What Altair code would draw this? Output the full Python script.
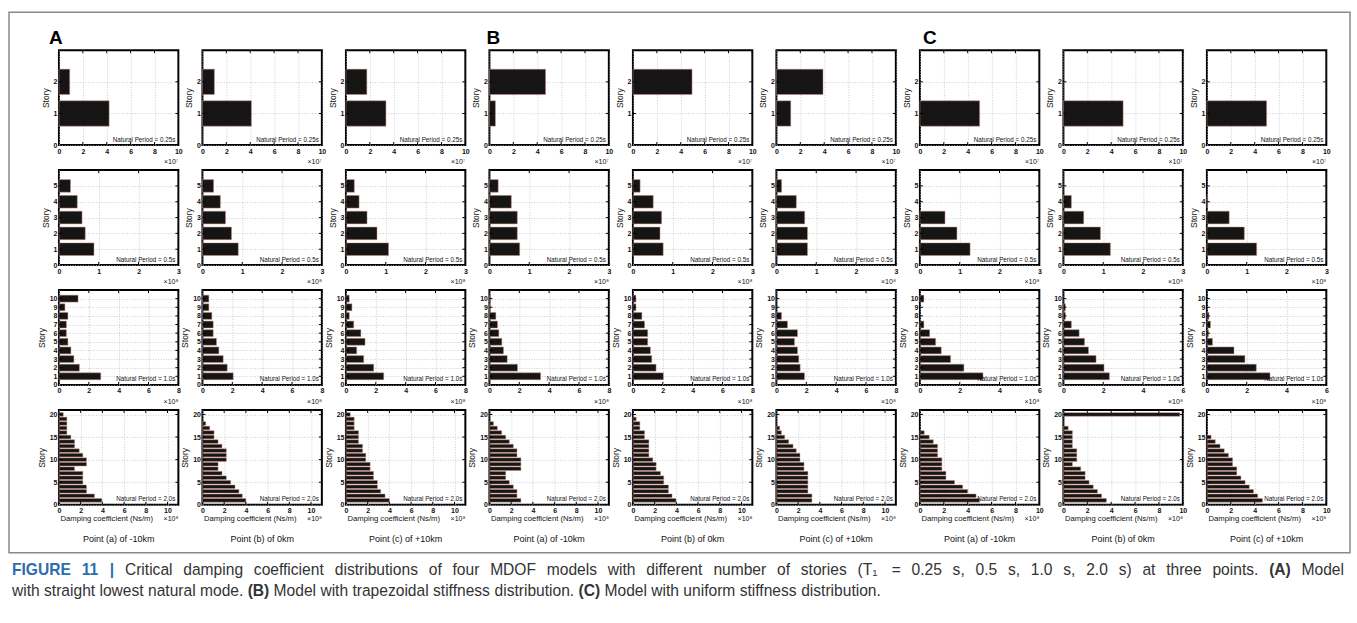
import altair as alt
import pandas as pd

# ------------------------------------------------------------------
# Critical damping coefficients.
# Row 1 (T1 = 0.25 s) in units of 1e7 Ns/m, rows 2-4 in 1e8 Ns/m.
# Each list: story 1 .. story N.  Panel order: A(a,b,c), B(a,b,c), C(a,b,c)
# ------------------------------------------------------------------
T025_A = [[4.2, 0.9], [4.1, 1.0], [3.35, 1.75]]
T025_B = [[0.5, 4.7], [0.0, 4.95], [1.2, 3.9]]
T025_C = [[5.0, 0.0], [5.0, 0.0], [5.0, 0.0]]

T05_A = [[0.88, 0.66, 0.58, 0.46, 0.29],
         [0.90, 0.73, 0.58, 0.45, 0.28],
         [1.07, 0.78, 0.53, 0.33, 0.21]]
T05_B = [[0.76, 0.70, 0.70, 0.55, 0.22],
         [0.76, 0.68, 0.72, 0.51, 0.18],
         [0.78, 0.78, 0.71, 0.50, 0.13]]
T05_C = [[1.26, 0.93, 0.63, 0.0, 0.0],
         [1.18, 0.93, 0.51, 0.20, 0.0],
         [1.25, 0.94, 0.56, 0.02, 0.0]]

T10_A = [[2.8, 1.37, 1.0, 0.8, 0.6, 0.5, 0.5, 0.6, 0.4, 1.28],
         [2.06, 1.66, 1.39, 1.1, 0.94, 0.72, 0.72, 0.63, 0.43, 0.43],
         [2.53, 1.86, 1.19, 0.72, 1.28, 1.0, 0.52, 0.22, 0.4, 0.22]]
T10_B = [[3.43, 1.88, 1.19, 0.94, 0.83, 0.63, 0.54, 0.43, 0.05, 0.07],
         [2.04, 1.55, 1.26, 1.17, 0.99, 0.99, 0.78, 0.6, 0.2, 0.2],
         [1.88, 1.59, 1.5, 1.41, 1.21, 1.41, 0.74, 0.34, 0.0, 0.0]]
T10_C = [[3.17, 2.21, 1.54, 1.07, 0.79, 0.49, 0.2, 0.0, 0.0, 0.2],
         [2.31, 2.04, 1.64, 1.26, 1.06, 0.79, 0.4, 0.1, 0.1, 0.0],
         [3.17, 2.48, 1.91, 1.36, 0.28, 0.08, 0.18, 0.1, 0.0, 0.0]]

T20_A = [[3.95, 3.27, 2.54, 2.54, 2.2, 2.2, 2.2, 1.44, 2.54, 2.54,
          2.2, 1.87, 1.44, 1.44, 1.1, 0.73, 0.73, 0.73, 0.73, 0.4],
         [4.0, 3.67, 3.36, 3.0, 2.6, 2.2, 1.8, 1.44, 1.44, 2.2,
          2.2, 2.2, 1.8, 1.44, 1.07, 1.07, 0.67, 0.3, 0.0, 0.0],
         [4.0, 3.6, 3.2, 2.9, 2.9, 2.54, 2.54, 2.23, 2.23, 1.83,
          1.83, 1.53, 1.53, 1.16, 1.16, 1.16, 0.76, 0.76, 0.76, 0.4]]
T20_B = [[2.9, 2.54, 2.54, 2.2, 1.83, 1.5, 1.5, 2.9, 2.9, 2.9,
          2.54, 2.54, 2.2, 1.83, 1.5, 1.13, 0.73, 0.37, 0.0, 0.0],
         [3.97, 3.6, 3.27, 3.27, 2.84, 2.84, 2.54, 2.14, 2.14, 1.83,
          1.47, 1.47, 1.47, 1.47, 1.07, 1.07, 0.64, 0.64, 0.3, 0.0],
         [3.27, 3.27, 2.9, 2.9, 2.9, 2.9, 2.9, 2.54, 2.54, 2.17,
          2.17, 1.83, 1.53, 1.13, 0.76, 0.46, 0.3, 0.0, 0.0, 0.0]]
T20_C = [[5.0, 4.7, 4.0, 3.58, 2.9, 2.18, 2.18, 1.84, 1.84, 1.84,
          1.48, 1.48, 1.48, 1.12, 0.78, 0.36, 0.0, 0.0, 0.0, 0.0],
         [3.6, 3.2, 2.85, 2.5, 2.15, 1.82, 1.82, 1.45, 0.75, 1.12,
          1.12, 1.12, 0.75, 0.75, 0.75, 0.75, 0.4, 0.0, 0.0, 9.75],
         [4.65, 4.25, 3.9, 3.55, 3.2, 2.85, 2.5, 2.5, 2.15, 2.15,
          1.8, 1.45, 1.1, 0.7, 0.35, 0.0, 0.0, 0.0, 0.0, 0.0]]

ROWS = [T025_A + T025_B + T025_C,
        T05_A + T05_B + T05_C,
        T10_A + T10_B + T10_C,
        T20_A + T20_B + T20_C]

PERIODS = ["0.25s", "0.5s", "1.0s", "2.0s"]
EXPONENTS = ["×10⁷", "×10⁸", "×10⁸", "×10⁸"]
GROUP_LABELS = ["A", "B", "C"]
POINT_LABELS = ["Point (a) of -10km", "Point (b) of 0km", "Point (c) of +10km"]
Y_MAX = [3, 6, 11, 21]
Y_TICKS = [[0, 1, 2], [0, 1, 2, 3, 4, 5], list(range(0, 11)), [0, 5, 10, 15, 20]]
X_MAX = [[10, 10, 10], [3, 3, 3], [8, 8, 6], [11, 11, 10]]
X_TICKS = [[[0, 2, 4, 6, 8, 10]] * 3,
           [[0, 1, 2, 3]] * 3,
           [[0, 2, 4, 6, 8], [0, 2, 4, 6, 8], [0, 2, 4, 6]],
           [[0, 2, 4, 6, 8, 10]] * 3]

# Caption (bold marker '*'): line 1 is justified, line 2 is not
CAPTION_1 = ("*FIGURE *11 *| Critical damping coefficient distributions of four MDOF "
             "models with different number of stories (T₁ = 0.25 s, 0.5 s, 1.0 s, "
             "2.0 s) at three points. *(A) Model")
CAPTION_2 = ("with straight lowest natural mode. *(B) Model with trapezoidal stiffness "
             "distribution. *(C) Model with uniform stiffness distribution.")

FONT = "Liberation Sans"
BLUE, GREY = "#2c6cb0", "#333333"
CAP_SIZE = 15.6
W, H = 119.5, 95
ORIGIN_X, ORIGIN_Y = 57, 408     # page position of bottom-left panel's plot area
ONE = pd.DataFrame({"k": [0]})

# Arial/Liberation Sans advance widths (1/1000 em) for caption layout
_REG = {" ": 278, "(": 333, ")": 333, ",": 278, "-": 333, ".": 278, "=": 584,
        "|": 260, "₁": 300, "A": 667, "B": 667, "C": 722, "D": 722, "E": 667,
        "F": 611, "G": 778, "I": 278, "M": 833, "O": 778, "R": 722, "T": 611,
        "U": 722, "a": 556, "b": 556, "c": 500, "d": 556, "e": 556, "f": 278,
        "g": 556, "h": 556, "i": 222, "l": 222, "m": 833, "n": 556, "o": 556,
        "p": 556, "r": 333, "s": 500, "t": 278, "u": 556, "w": 722, "y": 500,
        "z": 500}
_BOLD = {"A": 722, "B": 722, "C": 722, "(": 333, ")": 333, "|": 280}


def tw(s, bold=False):
    tot = 0
    for ch in s:
        if ch.isdigit():
            tot += 556
        elif bold and ch in _BOLD:
            tot += _BOLD[ch]
        else:
            tot += _REG.get(ch, 556)
    return tot * CAP_SIZE / 1000.0


def txt(text, x, y, size, align="left", baseline="alphabetic", weight="normal",
        color="#111111", font=FONT):
    return alt.Chart(ONE).mark_text(
        align=align, baseline=baseline, fontSize=size, fontWeight=weight,
        color=color, font=font
    ).encode(x=alt.value(x), y=alt.value(y), text=alt.value(text))


def caption_layers(line, x0, x1, y, justify):
    words = line.split(" ")
    items = [(w.lstrip("*"), w.startswith("*")) for w in words]
    widths = [tw(w, b) for w, b in items]
    gap = tw(" ")
    if justify:
        gap = (x1 - x0 - sum(widths)) / (len(items) - 1)
    out, x = [], x0
    for i, ((w, b), wd) in enumerate(zip(items, widths)):
        col = BLUE if (b and i < 3) else GREY
        out.append(txt(w, x - ORIGIN_X, y - ORIGIN_Y, CAP_SIZE,
                       weight="bold" if b else "normal", color=col))
        x += wd + gap
    return out


def panel(vals, r, c):
    g = c // 3
    n = len(vals)
    df = pd.DataFrame({"story": list(range(1, n + 1)), "coef": vals})
    df = df[df["coef"] > 0]
    xs = alt.Scale(domain=[0, X_MAX[r][g]], nice=False, zero=False)
    ys = alt.Scale(domain=[0, Y_MAX[r]], nice=False, zero=False)
    common = dict(tickSize=0, domain=False, grid=True, gridColor="#b9bfd2",
                  gridDash=[1, 1.6], gridWidth=0.8, labelFont=FONT,
                  labelFontSize=7, labelColor="#111111", labelFontWeight="bold",
                  labelOverlap=False, labelFlush=False)
    xaxis = alt.Axis(values=X_TICKS[r][g], title=None, labelPadding=2, **common)
    yaxis = alt.Axis(values=Y_TICKS[r], title="Story", titleFont=FONT,
                     titleFontSize=8.5, titleFontWeight="normal",
                     titleColor="#111111", titlePadding=3, labelPadding=2,
                     **common)
    bars = alt.Chart(df).transform_calculate(
        y0="datum.story - 0.4", y1="datum.story + 0.4"
    ).mark_rect(fill="#151515", stroke="#c98a7a", strokeWidth=0.5).encode(
        x=alt.X("coef:Q", scale=xs, axis=xaxis),
        x2=alt.datum(0),
        y=alt.Y("y0:Q", scale=ys, axis=yaxis),
        y2="y1:Q",
    )
    # inward tick marks on all four sides (MATLAB box style)
    xt = pd.DataFrame({"tx": X_TICKS[r][g][1:]})
    yt = pd.DataFrame({"ty": Y_TICKS[r][1:]})
    tick = dict(color="#000000", strokeWidth=1)
    ticks = [
        alt.Chart(xt).mark_rule(**tick).encode(
            x=alt.X("tx:Q", scale=xs, axis=xaxis), y=alt.value(0), y2=alt.value(3)),
        alt.Chart(xt).mark_rule(**tick).encode(
            x=alt.X("tx:Q", scale=xs, axis=xaxis), y=alt.value(H - 3), y2=alt.value(H)),
        alt.Chart(yt).mark_rule(**tick).encode(
            y=alt.Y("ty:Q", scale=ys, axis=yaxis), x=alt.value(0), x2=alt.value(3)),
        alt.Chart(yt).mark_rule(**tick).encode(
            y=alt.Y("ty:Q", scale=ys, axis=yaxis), x=alt.value(W - 3), x2=alt.value(W)),
    ]
    layers = [bars] + ticks + [
        txt("Natural Period = " + PERIODS[r], W - 3, H - 3.5, 6.3, align="right")]
    if r < 3:
        layers.append(txt(EXPONENTS[r], W, H + 19, 7, align="right"))
    else:
        layers.append(txt("Damping coefficient (Ns/m)", W * 0.40, H + 16, 7.7,
                          align="center"))
        layers.append(txt(EXPONENTS[r], W, H + 16, 7, align="right"))
        layers.append(txt(POINT_LABELS[c % 3], W / 2, H + 37, 9, align="center"))
    if r == 0 and c % 3 == 0:
        layers.append(txt(GROUP_LABELS[g], [-10, -3, 3][g], -6, 19,
                          weight="bold", color="#000000"))
    if r == 3 and c == 0:
        frame = alt.Chart(ONE).mark_rect(
            fillOpacity=0, stroke="#8a8a8a", strokeWidth=1.5
        ).encode(x=alt.value(7 - ORIGIN_X), x2=alt.value(1349 - ORIGIN_X),
                 y=alt.value(10 - ORIGIN_Y), y2=alt.value(551 - ORIGIN_Y))
        layers.append(frame)
        layers += caption_layers(CAPTION_1, 10, 1343, 573, True)
        layers += caption_layers(CAPTION_2, 10, 0, 594, False)
    return alt.layer(*layers).properties(width=W, height=H)


panels = [panel(ROWS[r][c], r, c) for r in range(4) for c in range(9)]

chart = alt.concat(*panels, columns=9, spacing={"row": 25, "column": 23.6},
                   bounds="flush").properties(
    padding={"left": 7, "top": 10, "right": 5, "bottom": 5},
    background="white",
).configure_view(stroke="#000000", strokeWidth=2)

chart.save("out.html", embed_options={"renderer": "svg", "actions": False})
